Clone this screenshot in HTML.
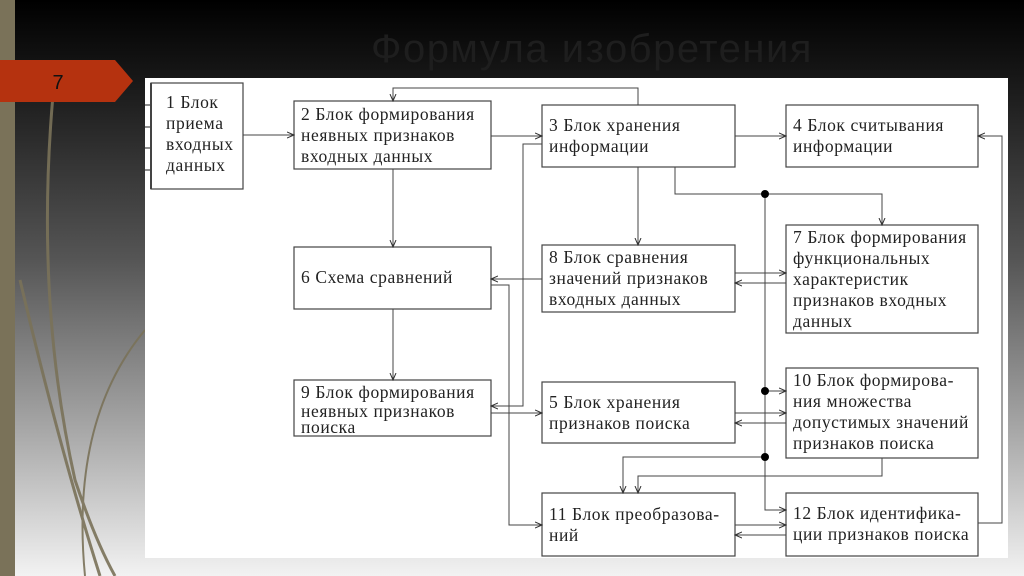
<!DOCTYPE html>
<html><head><meta charset="utf-8"><style>
html,body{margin:0;padding:0}
body{width:1024px;height:576px;overflow:hidden;position:relative;background:linear-gradient(180deg,#000 0%,#1a1a1a 15%,#555 45%,#a8a8a8 75%,#f2f2f2 100%);font-family:"Liberation Serif",serif}
</style></head><body>
<svg width="1024" height="576" style="position:absolute;left:0;top:0">
<defs><marker id="a" markerWidth="8" markerHeight="8" refX="7" refY="4" orient="auto" markerUnits="userSpaceOnUse"><path d="M0,1 L7,4 L0,7" fill="none" stroke="#333" stroke-width="1"/></marker></defs>
<rect x="0" y="0" width="15" height="576" fill="#7a7259"/>
<g fill="none" stroke="#7a7259" stroke-width="3" opacity="0.9">
<path d="M53,95 Q35,300 75,480 Q95,540 115,576"/>
<path d="M20,280 Q60,450 100,576"/>
<path d="M145,330 Q70,420 85,576" stroke-width="2"/>
</g>
<path d="M0,60 L115,60 L133,81 L115,102 L0,102 Z" fill="#b5320f"/>
<text x="58" y="89" font-family="Liberation Sans,sans-serif" font-size="20" fill="#111" text-anchor="middle">7</text>
<text x="592" y="62" font-family="Liberation Sans,sans-serif" font-size="40" letter-spacing="1.5" fill="#1e1e1e" text-anchor="middle">Формула изобретения</text>
<rect x="145" y="78" width="863" height="480" fill="#fff"/>
<g fill="none" stroke="#444" stroke-width="1.2">
<rect x="151" y="83" width="92" height="106"/>
<line x1="151" y1="83" x2="151" y2="189" stroke-width="2"/>
<line x1="145" y1="105" x2="151" y2="105"/><line x1="145" y1="127" x2="151" y2="127"/><line x1="145" y1="148" x2="151" y2="148"/><line x1="145" y1="170" x2="151" y2="170"/>
<rect x="294" y="101" width="197" height="68"/>
<rect x="542" y="105" width="193" height="62"/>
<rect x="786" y="105" width="192" height="62"/>
<rect x="294" y="247" width="197" height="62"/>
<rect x="542" y="245" width="193" height="67"/>
<rect x="786" y="225" width="192" height="108"/>
<rect x="294" y="380" width="197" height="56"/>
<rect x="542" y="382" width="193" height="61"/>
<rect x="786" y="368" width="192" height="90"/>
<rect x="542" y="493" width="193" height="63"/>
<rect x="786" y="493" width="192" height="63"/>
</g>
<g fill="none" stroke="#444" stroke-width="1" marker-end="url(#a)">
<path d="M243,135 H294"/>
<path d="M491,136 H542"/>
<path d="M638,105 V88 H393 V101"/>
<path d="M393,169 V247"/>
<path d="M393,309 V380"/>
<path d="M735,136 H786"/>
<path d="M978,523 H1002 V136 H978"/>
<path d="M638,167 V245"/>
<path d="M675,167 V194 H882 V225"/>
<path d="M765,194 V510 H786"/>
<path d="M765,391 H786"/>
<path d="M765,457 H623 V493"/>
<path d="M882,458 V476 H638 V493"/>
<path d="M735,273 H786"/>
<path d="M786,283 H735"/>
<path d="M735,413 H786"/>
<path d="M786,423 H735"/>
<path d="M735,525 H786"/>
<path d="M786,535 H735"/>
<path d="M542,279 H491"/>
<path d="M491,285 H509 V525 H542"/>
<path d="M542,144 H523 V406 H491"/>
<path d="M491,413 H542"/>
</g>
<g fill="#000"><circle cx="765" cy="194" r="4"/><circle cx="765" cy="391" r="4"/><circle cx="765" cy="457" r="4"/></g>
<g font-size="17.5" letter-spacing="0.6" fill="#222">
<text x="166" y="108">1 Блок</text><text x="166" y="129">приема</text><text x="166" y="150">входных</text><text x="166" y="171">данных</text>
<text x="301" y="120">2 Блок формирования</text><text x="301" y="141">неявных признаков</text><text x="301" y="162">входных данных</text>
<text x="549" y="131">3 Блок хранения</text><text x="549" y="152">информации</text>
<text x="793" y="131">4 Блок считывания</text><text x="793" y="152">информации</text>
<text x="301" y="283">6 Схема сравнений</text>
<text x="549" y="263">8 Блок сравнения</text><text x="549" y="284">значений признаков</text><text x="549" y="305">входных данных</text>
<text x="793" y="243">7 Блок формирования</text><text x="793" y="264">функциональных</text><text x="793" y="285">характеристик</text><text x="793" y="306">признаков входных</text><text x="793" y="327">данных</text>
<text x="301" y="398">9 Блок формирования</text><text x="301" y="417">неявных признаков</text><text x="301" y="433">поиска</text>
<text x="549" y="408">5 Блок хранения</text><text x="549" y="429">признаков поиска</text>
<text x="793" y="386">10 Блок формирова-</text><text x="793" y="407">ния множества</text><text x="793" y="428">допустимых значений</text><text x="793" y="449">признаков поиска</text>
<text x="549" y="520">11 Блок преобразова-</text><text x="549" y="541">ний</text>
<text x="793" y="519">12 Блок идентифика-</text><text x="793" y="540">ции признаков поиска</text>
</g>
</svg>
</body></html>
